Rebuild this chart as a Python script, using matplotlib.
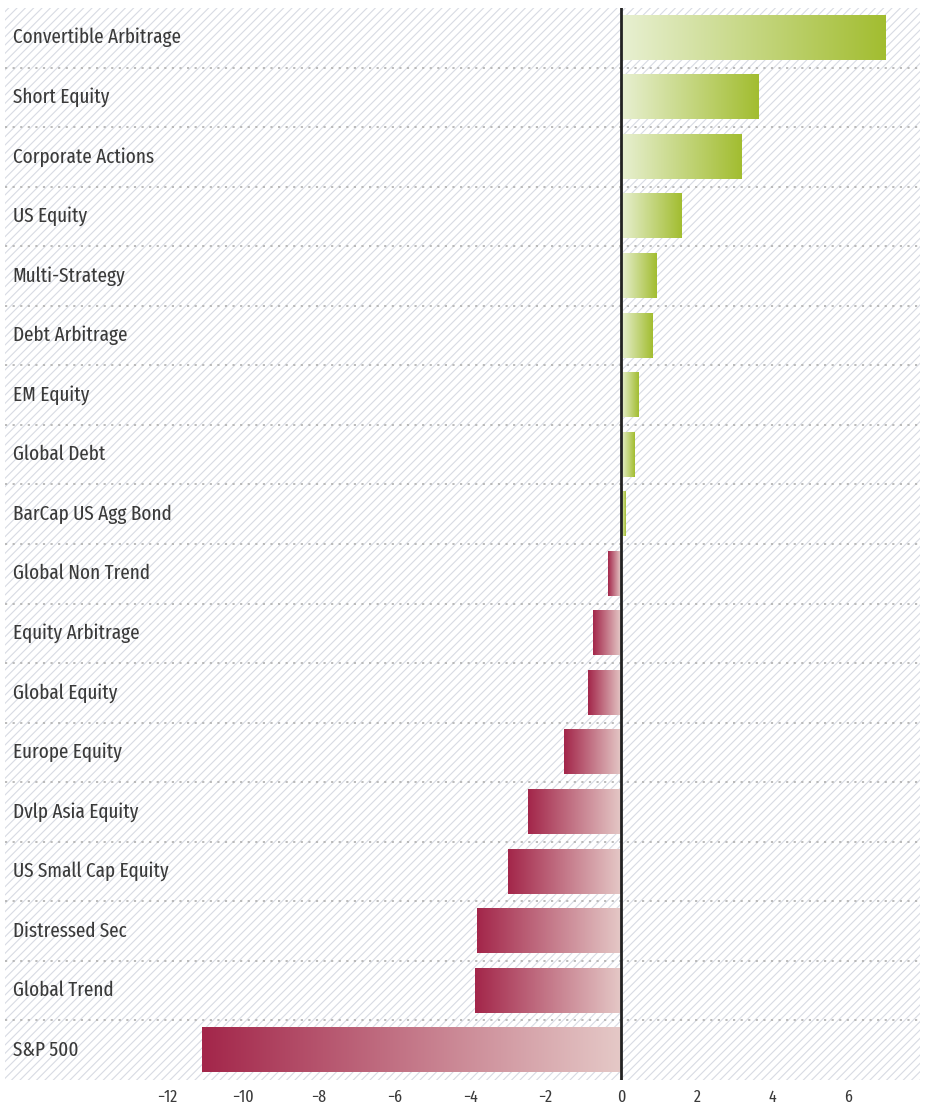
import numpy as np
import matplotlib
matplotlib.use("Agg")
import matplotlib.pyplot as plt
from matplotlib.colors import LinearSegmentedColormap
from matplotlib.patches import Rectangle

categories = ["Convertible Arbitrage", "Short Equity", "Corporate Actions", "US Equity",
              "Multi-Strategy", "Debt Arbitrage", "EM Equity", "Global Debt",
              "BarCap US Agg Bond", "Global Non Trend", "Equity Arbitrage", "Global Equity",
              "Europe Equity", "Dvlp Asia Equity", "US Small Cap Equity", "Distressed Sec",
              "Global Trend", "S&P 500"]
values = [7.0, 3.63, 3.18, 1.59, 0.93, 0.82, 0.45, 0.37, 0.13, -0.34, -0.74, -0.88,
          -1.51, -2.47, -3.0, -3.82, -3.87, -11.1]
xticks = [-12, -10, -8, -6, -4, -2, 0, 2, 4, 6]

plt.rcParams['font.family'] = ['Fira Sans Extra Condensed', 'Roboto Condensed', 'DejaVu Sans']
plt.rcParams['hatch.linewidth'] = 0.8

fig = plt.figure(figsize=(9.26, 11.07), dpi=100)
ax = fig.add_axes([5/926, 1-1080/1107, 915/926, 1072/1107])

xmin, xmax = -16.3, 7.9
n = len(categories)

bg = Rectangle((xmin, -0.5), xmax - xmin, n, facecolor='white', edgecolor='#d8dbe3',
               hatch='////', linewidth=0, zorder=0)
ax.add_patch(bg)

green = LinearSegmentedColormap.from_list('g', ['#e8f0d2', '#a2bd30'])
red = LinearSegmentedColormap.from_list('r', ['#e5c9c7', '#a3264a'])
grad = np.linspace(0, 1, 256).reshape(1, -1)
h = 0.74
for i, v in enumerate(values):
    cmap = green if v >= 0 else red
    ax.imshow(grad, cmap=cmap, aspect='auto', extent=(0, v, i + h/2, i - h/2),
              interpolation='bilinear', zorder=2)
    ax.text(xmin + 0.2, i, categories[i], ha='left', va='center', fontsize=15,
            fontweight='normal', color='#3a3a3a', zorder=3)

for i in range(n - 1):
    ax.axhline(i + 0.5, color='#b5b5b5', linewidth=1.3, linestyle=(0, (1.2, 3.0)), zorder=1)

ax.axvline(0, color='#222222', linewidth=2, zorder=4)

ax.set_xticks(xticks)
ax.set_xticklabels([("\u2212" + str(-t)) if t < 0 else str(t) for t in xticks],
                   fontsize=12.5, fontweight='normal', color='#3a3a3a')
ax.tick_params(axis='x', length=0, pad=7)
ax.set_yticks([])
for s in ax.spines.values():
    s.set_visible(False)

ax.set_xlim(xmin, xmax)
ax.set_ylim(n - 0.5, -0.5)
fig.savefig('out.png', dpi=100)
